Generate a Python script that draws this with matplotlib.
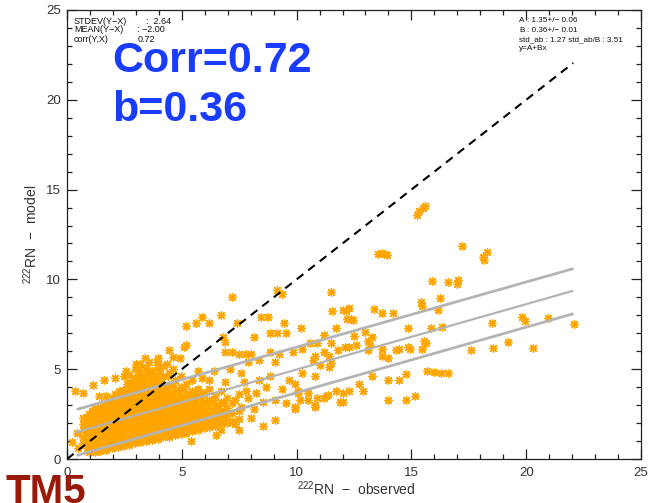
import numpy as np
import matplotlib
matplotlib.use("Agg")
import matplotlib.pyplot as plt
from matplotlib.ticker import MultipleLocator

plt.rcParams["font.family"] = ["Liberation Sans", "DejaVu Sans"]
plt.rcParams["mathtext.default"] = "regular"

# dense cloud, two interleaved sets of columns: observed value of each column
# and the model values read in it
core_obs_a = [0.7, 0.95, 1.2, 1.45, 1.7, 1.95, 2.2, 2.45, 2.7, 2.95, 3.2, 3.45, 3.7,
              3.95, 4.2, 4.45, 4.7, 4.95, 5.2, 5.45, 5.7, 5.95, 6.2, 6.45, 6.7,
              6.95, 7.2, 7.5]
core_mod_a = [
    [0.9, 1.25, 1.6, 1.95],
    [0.4, 0.75, 1.1, 1.45, 1.8, 2.15, 2.5],
    [0.4, 0.75, 1.1, 1.45, 1.8, 2.15, 2.5, 2.85],
    [0.45, 0.8, 1.15, 1.5, 1.85, 2.2, 2.55, 2.9],
    [0.5, 0.85, 1.2, 1.55, 1.9, 2.25, 2.6, 2.95],
    [0.6, 0.95, 1.3, 1.65, 2.0, 2.35, 2.7, 3.05, 3.4],
    [0.65, 1.0, 1.35, 1.7, 2.05, 2.4, 2.75, 3.1, 3.45],
    [0.7, 1.05, 1.4, 1.75, 2.1, 2.45, 2.8, 3.15, 3.5, 3.85],
    [0.8, 1.15, 1.5, 1.85, 2.2, 2.55, 2.9, 3.25, 3.6, 3.95, 4.7],
    [0.9, 1.25, 1.6, 1.95, 2.3, 2.65, 3.0, 3.35, 3.7, 4.05, 4.5, 5.0],
    [0.95, 1.3, 1.65, 2.0, 2.35, 2.7, 3.05, 3.4, 3.75, 4.1, 4.8, 5.3],
    [1.0, 1.35, 1.7, 2.05, 2.4, 2.75, 3.1, 3.45, 3.8, 4.2, 4.6, 5.1],
    [1.05, 1.4, 1.75, 2.1, 2.45, 2.8, 3.15, 3.5, 3.85, 4.3, 4.9],
    [1.1, 1.45, 1.8, 2.15, 2.5, 2.85, 3.2, 3.55, 3.9, 4.5, 5.1],
    [1.2, 1.55, 1.9, 2.25, 2.6, 2.95, 3.3, 3.65, 4.0, 4.6],
    [1.25, 1.6, 1.95, 2.3, 2.65, 3.0, 3.35, 3.7, 4.1, 4.8],
    [1.35, 1.7, 2.05, 2.4, 2.75, 3.1, 3.45, 3.85, 4.4],
    [1.4, 1.75, 2.1, 2.45, 2.8, 3.15, 3.5, 4.0, 4.6],
    [1.45, 1.8, 2.15, 2.5, 2.85, 3.2, 3.6, 4.2],
    [1.55, 1.9, 2.25, 2.6, 2.95, 3.3, 3.8, 4.4],
    [1.6, 1.95, 2.3, 2.65, 3.0, 3.4, 3.9],
    [1.7, 2.05, 2.4, 2.75, 3.15, 3.7],
    [1.8, 2.15, 2.5, 2.9, 3.3, 3.9],
    [1.85, 2.2, 2.6, 3.0, 3.5],
    [1.95, 2.3, 2.7, 3.2, 3.8],
    [2.0, 2.4, 2.85, 3.4],
    [2.1, 2.55, 3.1],
    [2.2, 2.7, 3.6],
]
core_obs_b = [0.85, 1.1, 1.35, 1.6, 1.85, 2.1, 2.35, 2.6, 2.85, 3.1, 3.35, 3.6, 3.85,
              4.1, 4.35, 4.6, 4.85, 5.1, 5.35, 5.6, 5.85, 6.1, 6.35, 6.6, 6.85]
core_mod_b = [
    [0.6, 0.95, 1.3, 1.65, 2.0, 2.35],
    [0.55, 0.9, 1.25, 1.6, 1.95, 2.3, 2.65],
    [0.6, 0.95, 1.3, 1.65, 2.0, 2.35, 2.7],
    [0.65, 1.0, 1.35, 1.7, 2.05, 2.4, 2.75, 3.1],
    [0.75, 1.1, 1.45, 1.8, 2.15, 2.5, 2.85, 3.2],
    [0.8, 1.15, 1.5, 1.85, 2.2, 2.55, 2.9, 3.25, 3.6],
    [0.85, 1.2, 1.55, 1.9, 2.25, 2.6, 2.95, 3.3, 3.65],
    [0.95, 1.3, 1.65, 2.0, 2.35, 2.7, 3.05, 3.4, 3.75, 4.2],
    [1.05, 1.4, 1.75, 2.1, 2.45, 2.8, 3.15, 3.5, 3.85, 4.3],
    [1.1, 1.45, 1.8, 2.15, 2.5, 2.85, 3.2, 3.55, 3.9, 4.4, 5.1],
    [1.15, 1.5, 1.85, 2.2, 2.55, 2.9, 3.25, 3.6, 3.95, 4.4],
    [1.2, 1.55, 1.9, 2.25, 2.6, 2.95, 3.3, 3.65, 4.05, 4.7],
    [1.25, 1.6, 1.95, 2.3, 2.65, 3.0, 3.35, 3.7, 4.15],
    [1.3, 1.65, 2.0, 2.35, 2.7, 3.05, 3.4, 3.8, 4.3],
    [1.4, 1.75, 2.1, 2.45, 2.8, 3.15, 3.5, 3.9],
    [1.5, 1.85, 2.2, 2.55, 2.9, 3.25, 3.65, 4.1],
    [1.55, 1.9, 2.25, 2.6, 2.95, 3.3, 3.75],
    [1.6, 1.95, 2.3, 2.65, 3.0, 3.4, 3.9],
    [1.7, 2.05, 2.4, 2.75, 3.1, 3.55],
    [1.75, 2.1, 2.45, 2.8, 3.2, 3.7],
    [1.85, 2.2, 2.55, 2.95, 3.45],
    [1.95, 2.3, 2.7, 3.1],
    [2.0, 2.4, 2.8, 3.3],
    [2.1, 2.5, 2.95],
    [2.2, 2.6, 3.1],
]

# scattered stations outside the dense cloud
sparse_obs = [0.35, 0.7, 1.15, 1.6, 2.1, 2.55, 3.15, 1.4, 1.7, 2.25, 0.7, 0.45, 0.2, 0.5,
              3.55, 3.95, 4.35, 4.6, 4.9, 5.1, 5.2, 5.2, 4.45,
              2.9, 3.1, 3.3, 3.5, 3.8, 4.0, 4.2, 4.4, 3.0, 3.4, 3.9, 4.6, 2.7, 2.5,
              5.6, 5.9, 6.2, 6.7, 7.2, 7.4, 8.45, 8.75, 9.45, 9.15, 8.85, 9.55, 10.2,
              6.8, 6.9, 8.15, 9.15, 9.35,
              6.9, 7.2, 7.5, 7.8, 8.0, 8.85, 9.25, 9.85, 7.9, 8.35, 9.05, 10.7, 7.1, 7.6,
              8.35, 8.85, 9.65, 9.95, 7.8, 8.25, 9.05, 8.55, 9.55, 10.05, 10.5, 8.0, 8.55,
              9.05, 7.3, 6.7, 8.15, 7.6, 7.0, 9.95, 7.7, 8.65, 5.9, 6.4, 6.2, 5.7, 6.9,
              7.3, 7.9, 9.35, 6.5, 7.5, 5.4,
              10.25, 10.8, 11.2, 11.5, 11.0, 12.3, 12.6, 13.1, 11.8, 10.25, 10.8, 11.4,
              10.05, 10.5, 10.9, 11.3, 11.7, 12.0, 11.9, 12.3, 12.7, 12.9, 9.95, 10.8,
              11.2, 10.15, 10.8, 11.35, 12.0,
              11.2, 10.9, 11.5, 12.1, 13.2, 13.7, 14.45, 14.95, 10.6, 11.4, 14.0,
              12.5, 13.0, 13.3, 13.1, 11.7,
              14.85, 15.85, 16.35, 15.55, 19.2, 20.3, 17.6, 18.55,
              15.7, 16.0, 16.3, 16.6, 14.0, 14.45, 14.75, 14.0, 14.75, 15.15, 13.3,
              15.65, 15.45, 14.85, 14.35, 13.7,
              11.55, 12.0, 12.3, 12.15, 12.2, 12.35, 12.45, 13.37, 13.7, 14.2, 16.15,
              18.5, 19.8, 19.95, 20.95, 22.08,
              11.5, 15.4, 15.45, 16.25,
              15.9, 16.6, 17.0, 17.05,
              13.55, 13.7, 13.85, 13.95,
              17.2, 18.1, 18.3, 18.15,
              15.25, 15.35, 15.5, 15.6]
sparse_mod = [3.8, 3.7, 4.1, 4.4, 4.5, 4.9, 5.2, 3.5, 3.5, 3.8, 2.26, 1.44, 0.93, 0.62,
              5.4, 5.6, 5.3, 5.7, 5.6, 6.25, 7.4, 6.35, 6.05,
              4.4, 4.7, 4.5, 4.9, 4.6, 4.9, 5.2, 4.6, 5.3, 5.6, 5.4, 5.0, 4.3, 4.6,
              7.6, 7.9, 7.6, 8.0, 9.0, 7.6, 7.9, 7.9, 7.6, 7.0, 7.0, 7.0, 7.3,
              6.8, 6.5, 6.8, 9.4, 9.2,
              5.95, 5.95, 5.85, 5.85, 5.85, 5.95, 5.85, 5.95, 5.4, 5.5, 5.4, 5.5, 5.0, 4.8,
              4.4, 4.6, 4.4, 4.2, 3.8, 3.7, 3.3, 3.2, 3.1, 3.7, 3.3, 2.26, 1.85,
              2.15, 1.95, 1.64, 2.77, 2.87, 2.57, 2.87, 4.3, 4.0, 4.5, 4.9, 4.4, 4.9, 4.3,
              3.3, 3.4, 3.9, 1.34, 1.64, 1.03,
              6.15, 5.75, 5.95, 5.35, 5.25, 6.25, 6.35, 6.05, 6.05, 4.8, 4.6, 5.1,
              3.8, 3.7, 3.4, 3.5, 3.8, 3.7, 3.2, 3.8, 4.2, 3.8, 2.77, 2.98,
              3.4, 3.3, 2.87, 3.55, 3.2,
              6.9, 6.45, 6.45, 6.25, 6.35, 6.15, 6.15, 6.15, 6.45, 5.75, 5.64,
              6.87, 7.07, 6.77, 6.56, 7.28,
              7.3, 7.3, 7.35, 6.56, 6.5, 6.2, 6.07, 6.2,
              4.9, 4.85, 4.8, 4.8, 4.41, 4.41, 4.72, 3.28, 3.28, 3.5, 4.62,
              6.46, 6.15, 6.25, 6.05, 5.74,
              8.24, 8.3, 8.4, 8.25, 7.8, 7.8, 7.75, 8.35, 8.13, 8.13, 8.3,
              7.6, 7.9, 7.7, 7.85, 7.52,
              9.3, 8.74, 8.5, 8.96,
              9.9, 9.85, 9.74, 9.95,
              11.4, 11.45, 11.4, 11.35,
              11.86, 11.25, 11.5, 11.1,
              13.6, 13.8, 14.0, 14.1]

# regression line (y=A+Bx), the +/- std_ab band and the 1:1 line, end points in data units
band_x = [0.48, 22.0]
fit_x = [0.44, 22.0]
fit_mid = [1.50, 9.35]
fit_upper = [2.78, 10.58]
fit_lower = [0.22, 8.07]
one_to_one = [0.0, 22.05]

obs_all = np.concatenate([np.repeat(core_obs_a, [len(c) for c in core_mod_a]),
                          np.repeat(core_obs_b, [len(c) for c in core_mod_b]),
                          sparse_obs])
mod_all = np.concatenate([np.concatenate(core_mod_a), np.concatenate(core_mod_b), sparse_mod])

W, H = 665, 503
fig = plt.figure(figsize=(W / 100, H / 100), dpi=100)
ax = fig.add_axes([67 / W, 1 - 459 / H, (641 - 67) / W, (459 - 10) / H])

ax.scatter(obs_all, mod_all, s=30, marker=(8, 2, 0), color="#FFA500", linewidths=1.0, zorder=2)

ax.plot(band_x, fit_upper, color="#B4B4B4", lw=2.0, zorder=3)
ax.plot(band_x, fit_lower, color="#B4B4B4", lw=2.0, zorder=3)
ax.plot(fit_x, fit_mid, color="#B4B4B4", lw=1.6, zorder=3)
ax.plot(one_to_one, one_to_one, color="black", lw=1.5, ls=(0, (4, 3)), zorder=4)

ax.set_xlim(0, 25)
ax.set_ylim(0, 25)
ax.xaxis.set_major_locator(MultipleLocator(5))
ax.yaxis.set_major_locator(MultipleLocator(5))
ax.xaxis.set_minor_locator(MultipleLocator(1))
ax.yaxis.set_minor_locator(MultipleLocator(1))
ax.tick_params(which="both", direction="in", top=True, right=True, color="#222222", width=0.9)
ax.tick_params(which="major", length=7.2, labelsize=9.5, labelcolor="#333333")
ax.tick_params(which="minor", length=3.6)
ax.tick_params(axis="x", which="major", pad=6)
ax.tick_params(axis="y", which="major", pad=4.5)
for sp in ax.spines.values():
    sp.set_color("#222222")
    sp.set_linewidth(0.9)


def ftext(x, y, s, **kw):
    fig.text(x / W, 1 - y / H, s, **kw)


ftext(356, 489, r"$^{222}$RN  $-$  observed", fontsize=10, color="#333333", ha="center", va="center")
ftext(31, 234, r"$^{222}$RN  $-$  model", fontsize=10, color="#333333", ha="center", va="center",
      rotation=90)

small = dict(fontsize=6.5, color="#111111", va="center")
ftext(74, 21, "STDEV(Y\u2212X)", **small)
ftext(146, 21, ":  2.64", **small)
ftext(74, 30, "MEAN(Y\u2212X)", **small)
ftext(137, 30, ": \u22122.00", **small)
ftext(74, 39, "corr(Y,X)", **small)
ftext(138, 39, "0.72", **small)

right = dict(fontsize=5.9, color="#111111", va="center")
ftext(519, 21, "A", **right)
ftext(527, 21, ": 1.35+/\u2212 0.06", **right)
ftext(519, 30, "B", **right)
ftext(527, 30, ": 0.36+/\u2212 0.01", **right)
ftext(519, 40, "std_ab : 1.27 std_ab/B : 3.51", **right)
ftext(519, 48, "y=A+Bx", **right)

ftext(112, 72, "Corr=0.72", fontsize=31, fontweight="bold", color="#1A3CFF", va="baseline")
ftext(112, 121, "b=0.36", fontsize=31, fontweight="bold", color="#1A3CFF", va="baseline")

ftext(6, 503, "TM5", fontsize=29, fontweight="bold", color="#9A1A0A", va="baseline")

fig.savefig("out.png", dpi=100)
